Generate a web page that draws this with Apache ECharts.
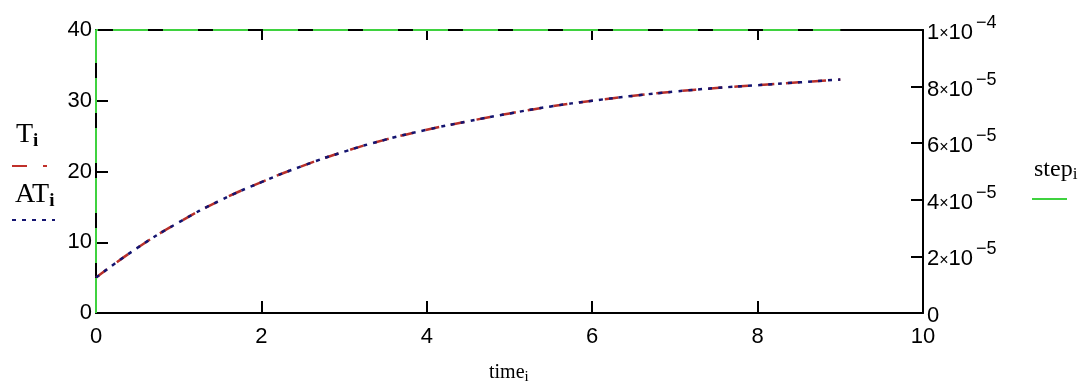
<!DOCTYPE html>
<html>
<head>
<meta charset="utf-8">
<script src="https://cdn.jsdelivr.net/npm/echarts@6/dist/echarts.min.js"></script>
<style>
html,body{margin:0;padding:0;background:#fff;}
#c{width:1092px;height:390px;}
</style>
</head>
<body>
<div id="c"></div>
<script>
// values
const time = [0, 0.5, 1, 1.5, 2, 2.5, 3, 3.5, 4, 4.5, 5, 5.5, 6, 6.5, 7, 7.5, 8, 8.5, 9];
const T    = [5.0, 9.2, 12.8, 15.9, 18.5, 20.8, 22.8, 24.5, 25.9, 27.1, 28.2, 29.2, 30.0, 30.7, 31.3, 31.8, 32.2, 32.6, 33.0];
const AT   = [5.0, 9.2, 12.8, 15.9, 18.5, 20.8, 22.8, 24.5, 25.9, 27.1, 28.2, 29.2, 30.0, 30.7, 31.3, 31.8, 32.2, 32.6, 33.0];
const stepTime  = [0, 0, 9];
const stepValue = [0, 1e-4, 1e-4];

const pair = (xs, ys) => xs.map((x, i) => [x, ys[i]]);
const chart = echarts.init(document.getElementById('c'), null, {renderer: 'canvas'});
const lab = {color: '#000', fontFamily: 'Liberation Sans, Arial, sans-serif', fontSize: 22};
const serif = 'Liberation Serif, Times New Roman, serif';

function rightFmt(v) {
  if (v === 0) return '{b|0}';
  if (Math.abs(v - 1e-4) < 1e-12) return '{b|1}{x|×}{b|10}{s|−4}';
  const m = Math.round(v / 1e-5);
  return '{b|' + m + '}{x|×}{b|10}{s|−5}';
}

const option = {
  backgroundColor: '#fff',
  animation: false,
  grid: {left: 96, right: 169, top: 30, bottom: 77, containLabel: false},
  xAxis: [{
    type: 'value', min: 0, max: 10, interval: 2, position: 'bottom',
    axisLine: {show: true, onZero: false, lineStyle: {color: '#000', width: 2}},
    axisTick: {show: true, inside: true, length: 12, lineStyle: {color: '#000', width: 2}},
    axisLabel: Object.assign({margin: 13}, lab),
    splitLine: {show: false}
  }, {
    type: 'value', min: 0, max: 10, interval: 2, position: 'top',
    axisLine: {show: true, onZero: false, lineStyle: {color: '#000', width: 2}},
    axisTick: {show: true, inside: true, length: 10, lineStyle: {color: '#000', width: 2}},
    axisLabel: {show: false},
    splitLine: {show: false}
  }],
  yAxis: [{
    type: 'value', min: 0, max: 40, interval: 10, position: 'left',
    axisLine: {show: true, onZero: false, lineStyle: {color: '#000', width: 2}},
    axisTick: {show: true, inside: true, length: 12, lineStyle: {color: '#000', width: 2}},
    axisLabel: Object.assign({margin: 4}, lab),
    splitLine: {show: false}
  }, {
    type: 'value', min: 0, max: 1e-4, interval: 2e-5, position: 'right',
    axisLine: {show: true, onZero: false, lineStyle: {color: '#000', width: 2}},
    axisTick: {show: true, inside: true, length: 12, lineStyle: {color: '#000', width: 2}},
    axisLabel: {
      margin: 4, formatter: rightFmt,
      rich: {
        b: {color: '#000', fontFamily: 'Liberation Sans, Arial, sans-serif', fontSize: 22, padding: [6, 0, 0, 0]},
        x: {color: '#000', fontFamily: 'Liberation Sans, Arial, sans-serif', fontSize: 16, padding: [8, 0, 0, 0]},
        s: {color: '#000', fontFamily: 'Liberation Sans, Arial, sans-serif', fontSize: 18, padding: [0, 0, 14, 3]}
      }
    },
    splitLine: {show: false}
  }],
  series: [{
    name: 'step', type: 'line', xAxisIndex: 0, yAxisIndex: 1, clip: false,
    data: pair(stepTime, stepValue), showSymbol: false, symbol: 'none', z: 5,
    lineStyle: {color: '#3fd23f', width: 2, type: [35, 15]}
  }, {
    name: 'T', type: 'line', xAxisIndex: 0, yAxisIndex: 0, smooth: true,
    data: pair(time, T), showSymbol: false, symbol: 'none', z: 3,
    lineStyle: {color: '#b8302a', width: 2.5, type: [14, 12]}
  }, {
    name: 'AT', type: 'line', xAxisIndex: 0, yAxisIndex: 0, smooth: true,
    data: pair(time, AT), showSymbol: false, symbol: 'none', z: 4,
    lineStyle: {color: '#141470', width: 2.5, type: [4, 6]}
  }],
  graphic: [
    {type: 'text', left: 16, top: 121, style: {text: '{a|T}{s|i}', rich: {
      a: {fontFamily: serif, fontSize: 28, fill: '#000'},
      s: {fontFamily: serif, fontSize: 19, fontWeight: 'bold', fill: '#000', padding: [12, 0, 0, 0]}}}},
    {type: 'line', shape: {x1: 12, y1: 166, x2: 48, y2: 166}, style: {stroke: '#c0302a', lineWidth: 2, lineDash: [15, 16, 4, 40]}},
    {type: 'text', left: 15, top: 181, style: {text: '{a|AT}{s|i}', rich: {
      a: {fontFamily: serif, fontSize: 28, fill: '#000'},
      s: {fontFamily: serif, fontSize: 19, fontWeight: 'bold', fill: '#000', padding: [12, 0, 0, 0]}}}},
    {type: 'line', shape: {x1: 12, y1: 220, x2: 55, y2: 220}, style: {stroke: '#141470', lineWidth: 2, lineDash: [4, 6]}},
    {type: 'text', left: 1034, top: 158, style: {text: '{a|step}{s|i}', rich: {
      a: {fontFamily: serif, fontSize: 24, fill: '#000'},
      s: {fontFamily: serif, fontSize: 17, fill: '#000', padding: [9, 0, 0, 0]}}}},
    {type: 'line', shape: {x1: 1032, y1: 199, x2: 1067, y2: 199}, style: {stroke: '#3fd23f', lineWidth: 2}},
    {type: 'text', left: 489, top: 363, style: {text: '{a|time}{s|i}', rich: {
      a: {fontFamily: serif, fontSize: 20, fill: '#000'},
      s: {fontFamily: serif, fontSize: 15, fill: '#000', padding: [8, 0, 0, 0]}}}}
  ]
};
chart.setOption(option);
</script>
</body>
</html>
